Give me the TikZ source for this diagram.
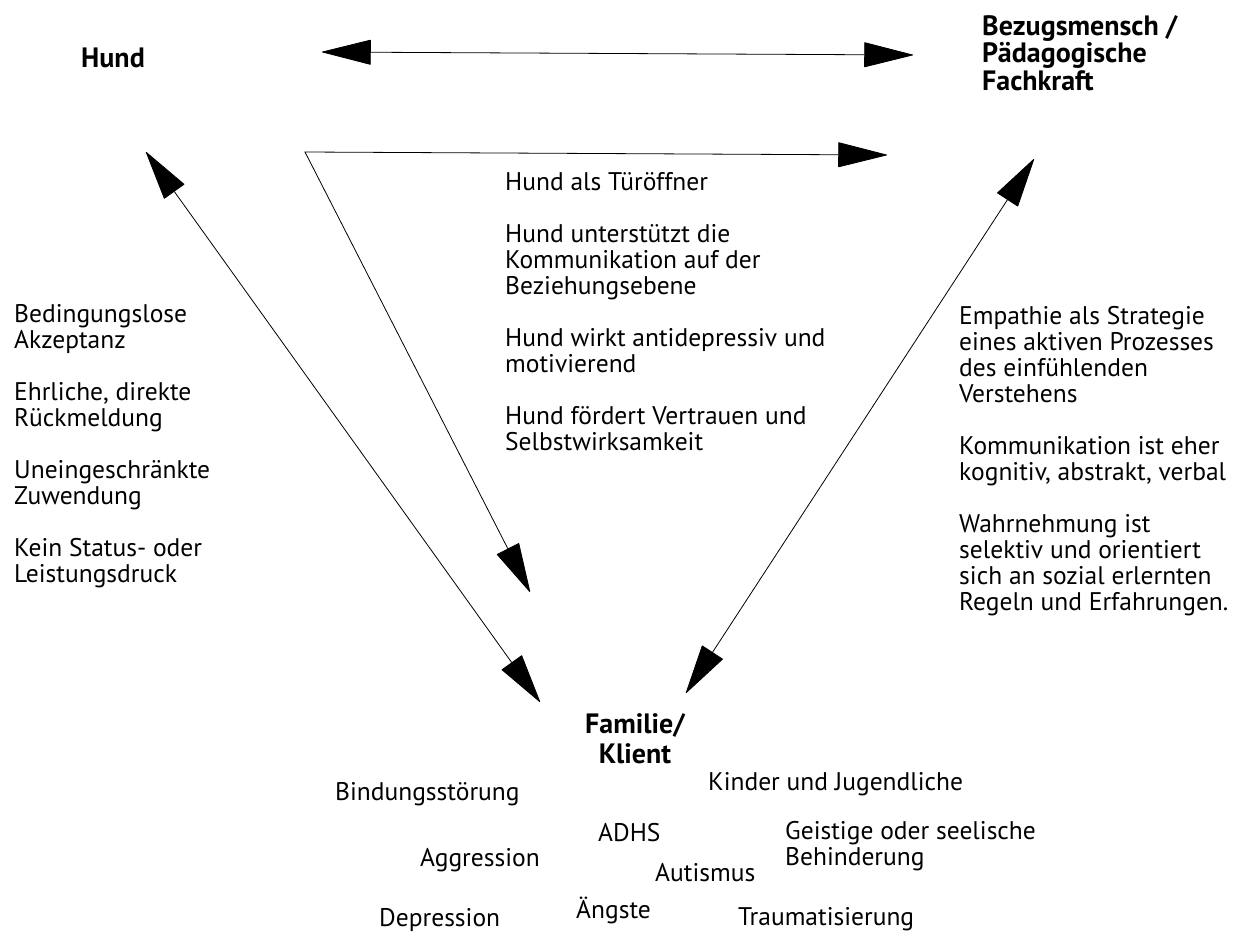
\documentclass[tikz,border=0pt]{standalone}
\usepackage{fontspec}
\setmainfont{PT Sans}
\usetikzlibrary{arrows.meta}

\begin{document}
\begin{tikzpicture}[x=1pt, y=-1pt,
            every node/.style={inner sep=0pt, font=\fontsize{25.5}{26}\selectfont}]
            \tikzstyle{headStyle} = [align=left, font=\fontsize{28}{27.5}\selectfont\bfseries]
            \tikzstyle{textStyle} = [anchor=north west, align=left]
            \tikzstyle{wordStyle} = [anchor=west]
            \tikzstyle{linkEdge} = [draw=black, line width=0.8,
                {Triangle[length=50pt,width=25pt,round]}-{Triangle[length=50pt,width=25pt,round]}]
            \useasboundingbox (0,0) rectangle (1237,933);
            % the three corners
            \node[headStyle, anchor=west] (hund) at (81,58) {Hund};
            \node[headStyle, anchor=north west] (fachkraft) at (982,15)
                {Bezugsmensch /\\Pädagogische\\Fachkraft};
            \node[headStyle, align=center, anchor=north,
                  font=\fontsize{28}{30}\selectfont\bfseries] (klient) at (635,713)
                {Familie/\\Klient};
            % arrow ends
            \coordinate (hundR) at (322,52);
            \coordinate (fachL) at (913,55);
            \coordinate (ecke) at (305,152);
            \coordinate (eckeR) at (887,155);
            \coordinate (eckeU) at (530,592);
            \coordinate (hundU) at (146,152);
            \coordinate (klientL) at (540,702);
            \coordinate (fachU) at (1034,159);
            \coordinate (klientR) at (686,693);
            \foreach \from/\to in {hundR/fachL, hundU/klientL, fachU/klientR}
                \path[linkEdge] (\from) -- (\to);
            \path[linkEdge] (eckeR) -- (ecke) -- (eckeU);
            % texts
            \node[textStyle] (links) at (14,304)
                {Bedingungslose\\Akzeptanz\\[26pt]Ehrliche, direkte\\Rückmeldung\\[26pt]%
                 Uneingeschränkte\\Zuwendung\\[26pt]Kein Status- oder\\Leistungsdruck};
            \node[textStyle] (mitte) at (505,172)
                {Hund als Türöffner\\[26pt]Hund unterstützt die\\Kommunikation auf der\\%
                 Beziehungsebene\\[26pt]Hund wirkt antidepressiv und\\motivierend\\[26pt]%
                 Hund fördert Vertrauen und\\Selbstwirksamkeit};
            \node[textStyle] (rechts) at (959,306)
                {Empathie als Strategie\\eines aktiven Prozesses\\des einfühlenden\\Verstehens\\[26pt]%
                 Kommunikation ist eher\\kognitiv, abstrakt, verbal\\[26pt]%
                 Wahrnehmung ist\\selektiv und orientiert\\sich an sozial erlernten\\Regeln und Erfahrungen.};
            % client words
            \node[wordStyle] (bindung) at (335,794) {Bindungsstörung};
            \node[wordStyle] (kinder) at (708,784) {Kinder und Jugendliche};
            \node[wordStyle] (adhs) at (598,833) {ADHS};
            \node[textStyle] (geistig) at (785,821) {Geistige oder seelische\\Behinderung};
            \node[wordStyle] (aggression) at (420,860) {Aggression};
            \node[wordStyle] (autismus) at (655,873) {Autismus};
            \node[wordStyle] (depression) at (379,920) {Depression};
            \node[wordStyle] (angst) at (576,910) {Ängste};
            \node[wordStyle] (trauma) at (738,919) {Traumatisierung};
        \end{tikzpicture}
\end{document}
